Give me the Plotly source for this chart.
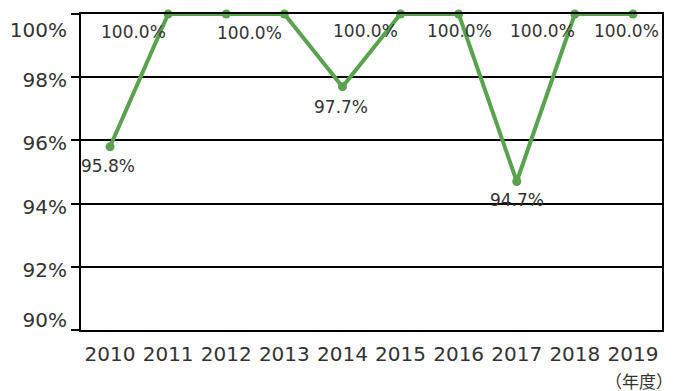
import plotly.graph_objects as go

years = ["2010", "2011", "2012", "2013", "2014", "2015", "2016", "2017", "2018", "2019"]
rates = [95.8, 100.0, 100.0, 100.0, 97.7, 100.0, 100.0, 94.7, 100.0, 100.0]
label_years = ["2010", "2011", "2013", "2014", "2015", "2016", "2017", "2018", "2019"]
label_vals = [95.8, 100.0, 100.0, 97.7, 100.0, 100.0, 94.7, 100.0, 100.0]
label_dx = [-2, -35, -35, -1, -35, 1, 0, -32, -6]
label_dy = [-19, -18, -19, -20, -17, -17, -19, -17, -17]
y_ticks = [90, 92, 94, 96, 98, 100]
y_ticktext = ["90%<br> ", "92%", "94%", "96%", "98%", " <br>100%"]

FONT = "DejaVu Sans"
CJK = "Noto Sans CJK JP"
GREEN = "#5aa34e"
TXT = "#333333"

fig = go.Figure()
fig.add_trace(go.Scatter(
    x=years, y=rates, mode="lines+markers",
    line=dict(color=GREEN, width=4),
    marker=dict(color=GREEN, size=9),
    cliponaxis=False, showlegend=False,
))

for yr, v, dx, dy in zip(label_years, label_vals, label_dx, label_dy):
    fig.add_annotation(x=years.index(yr), y=v, text=f"{v:.1f}%", showarrow=False,
                       xshift=dx, yshift=dy,
                       font=dict(family=FONT, size=17, color=TXT))

fig.add_annotation(xref="paper", yref="paper", x=1.0, y=0, yshift=-50, xshift=13,
                   xanchor="right", yanchor="middle", text="（年度）", showarrow=False,
                   font=dict(family=CJK, size=17, color=TXT))

fig.update_layout(
    width=674, height=391,
    margin=dict(l=73, r=20, t=6, b=69, autoexpand=False),
    paper_bgcolor="white", plot_bgcolor="white",
    font=dict(family=FONT, size=20, color=TXT),
    xaxis=dict(type="category", range=[-0.5, 9.5], showgrid=False,
               showline=True, linecolor="black", linewidth=2, mirror=True,
               ticks="", ticklabelstandoff=5,
               tickfont=dict(family=FONT, size=20, color=TXT)),
    yaxis=dict(range=[90, 100], tickvals=y_ticks, ticktext=y_ticktext,
               showgrid=True, gridcolor="black", gridwidth=1.5,
               showline=True, linecolor="black", linewidth=2, mirror=True,
               ticks="outside", ticklen=8, tickcolor="black", tickwidth=1.5,
               zeroline=False, automargin=False, ticklabeloverflow="allow",
               ticklabelshift=3,
               tickfont=dict(family=FONT, size=20, color=TXT)),
)

fig.write_html("out.html")
